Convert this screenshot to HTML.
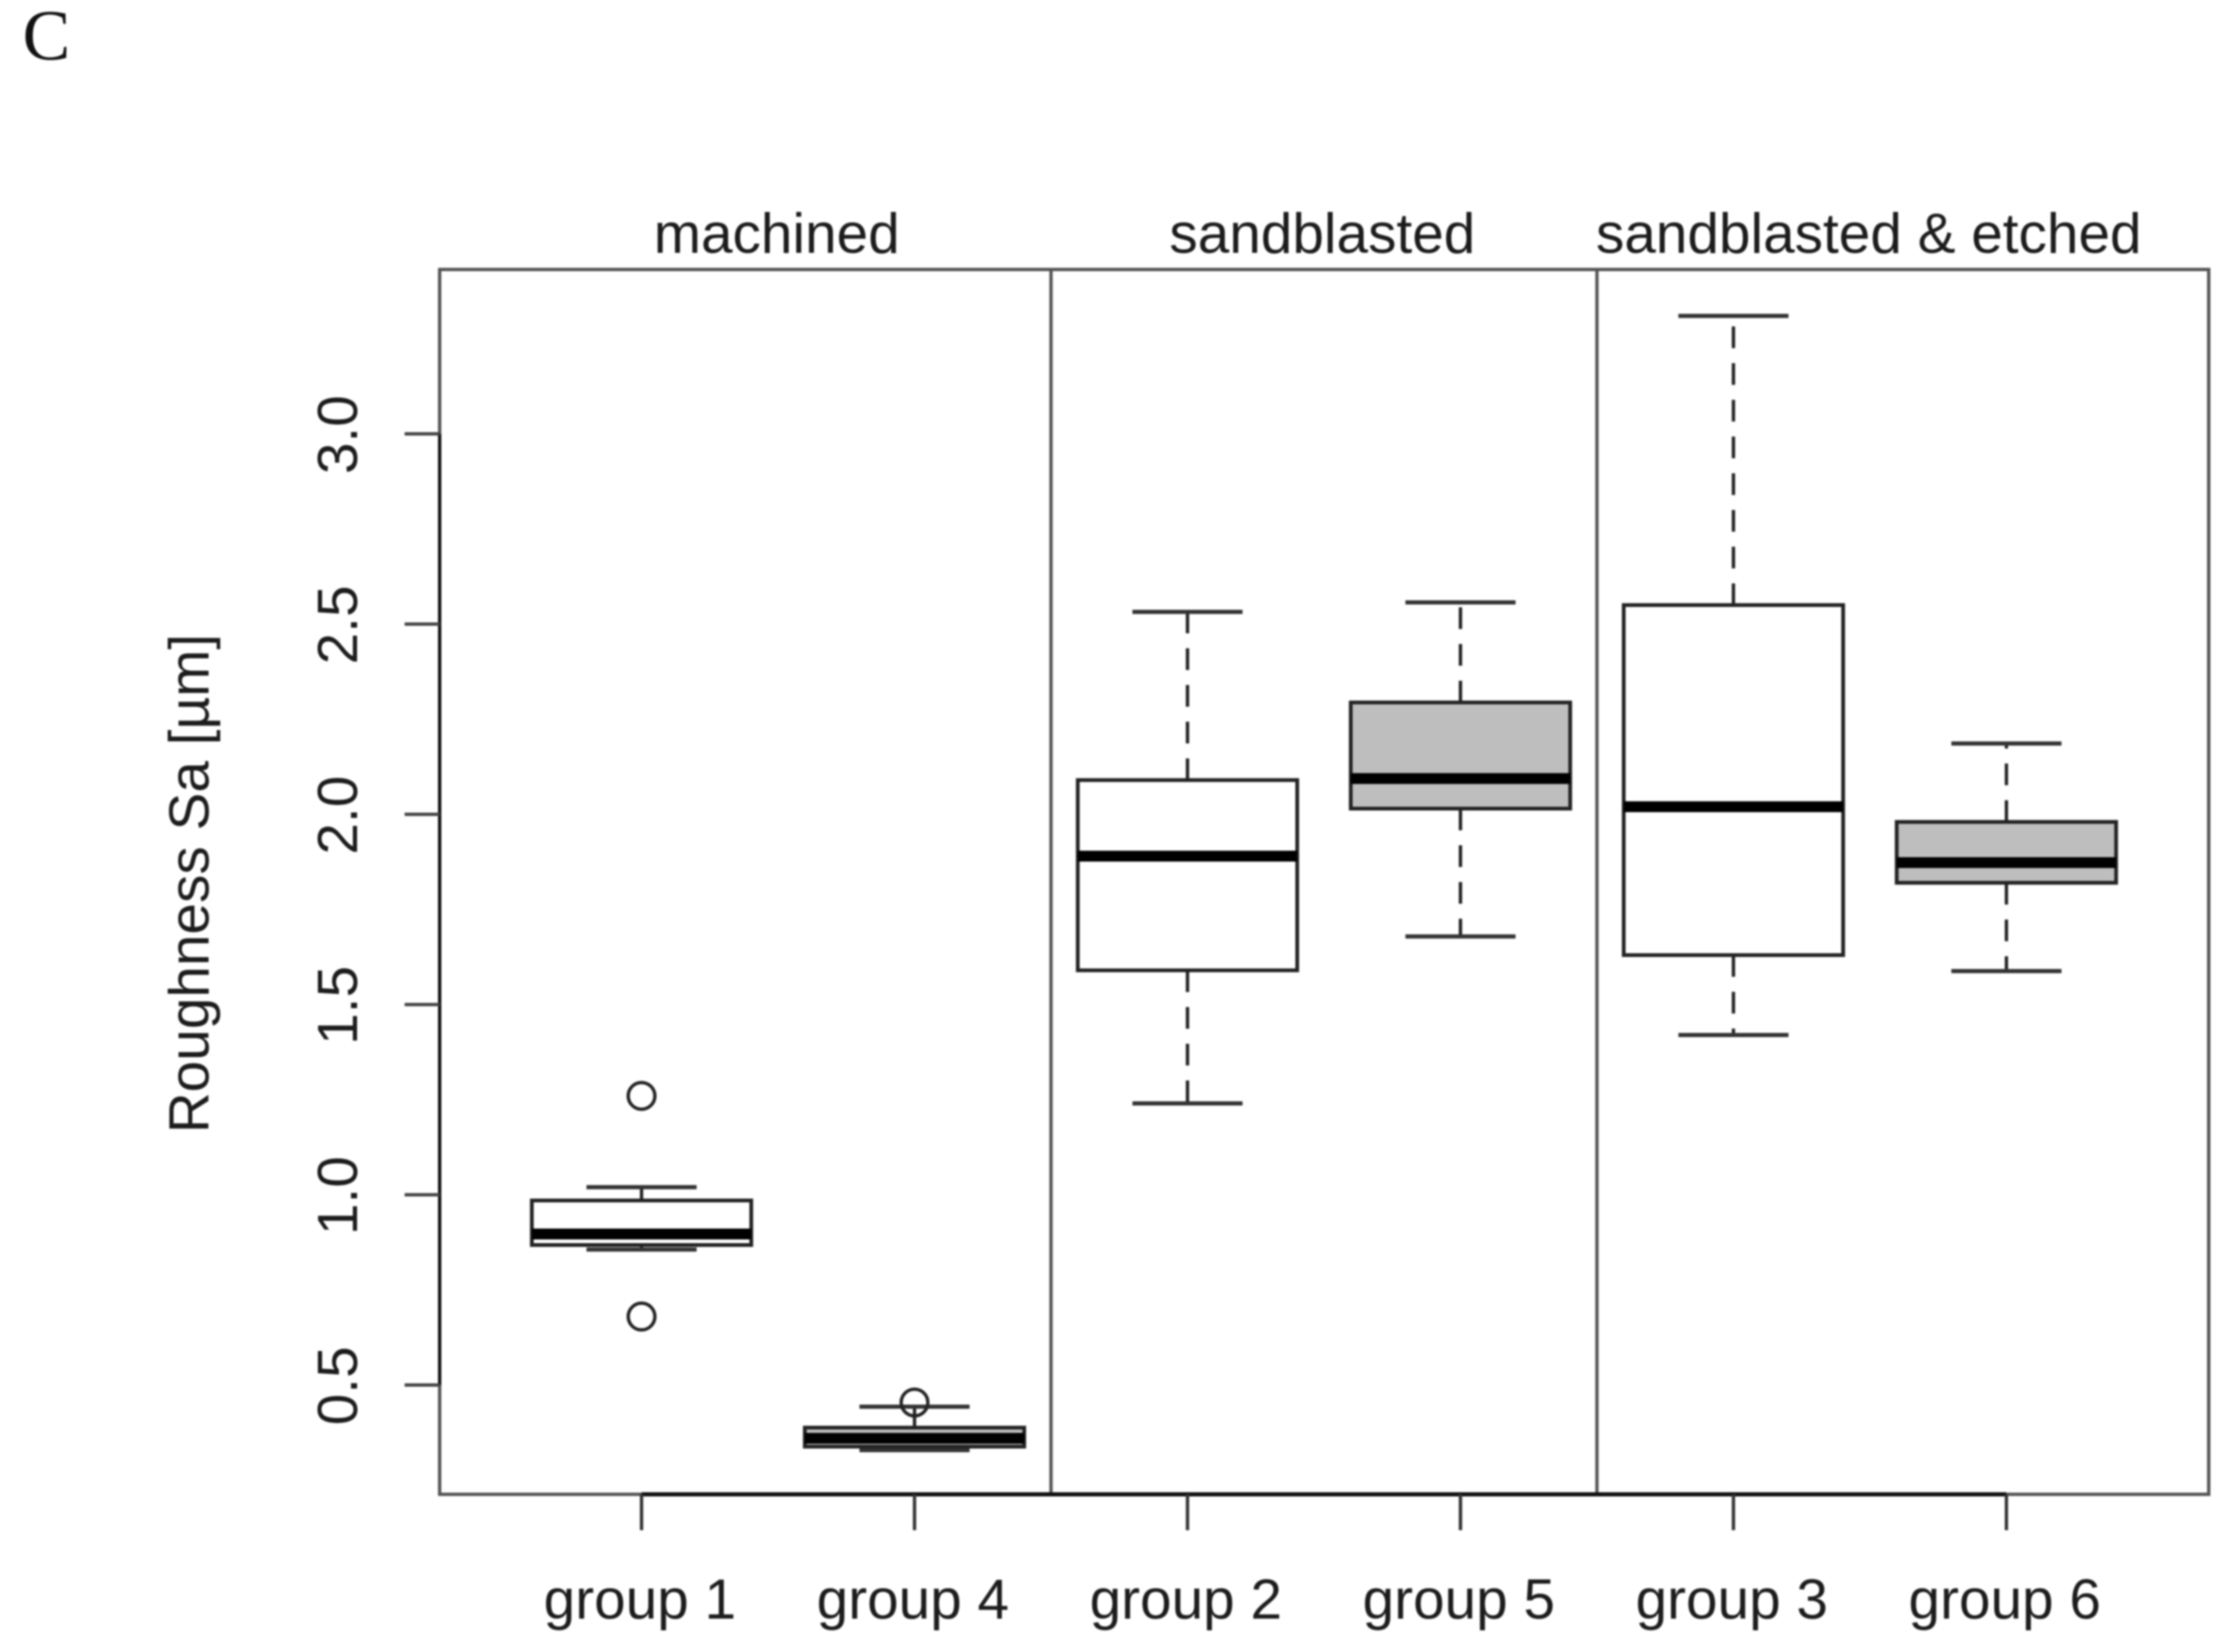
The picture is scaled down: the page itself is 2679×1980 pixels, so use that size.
<!DOCTYPE html>
<html>
<head>
<meta charset="utf-8">
<title>Roughness Sa boxplot</title>
<style>
html,body{margin:0;padding:0;background:#fff;}
body{width:2679px;height:1980px;overflow:hidden;}
svg{display:block;filter:blur(1.1px);}
text{font-family:"Liberation Sans",sans-serif;font-size:68px;fill:#1c1c1c;}
</style>
</head>
<body>
<svg id="chart" xmlns="http://www.w3.org/2000/svg" width="2679" height="1980" viewBox="0 0 2679 1980">
<rect x="0" y="0" width="2679" height="1980" fill="#fff"/>
<text x="27" y="71" style="font-family:'Liberation Serif',serif;font-size:86px;fill:#111">C</text>
<text transform="translate(250,1059) rotate(-90)" text-anchor="middle">Roughness Sa [µm]</text>
<text x="931" y="303" text-anchor="middle">machined</text>
<text x="1585" y="303" text-anchor="middle">sandblasted</text>
<text x="2240" y="303" text-anchor="middle">sandblasted &amp; etched</text>
</svg>
<script>
const categories = ["group 1", "group 4", "group 2", "group 5", "group 3", "group 6"];
const whiskerHigh = [1.02, 0.443, 2.532, 2.557, 3.31, 2.186];
const boxHigh = [0.985, 0.388, 2.09, 2.294, 2.55, 1.98];
const medians = [0.897, 0.36, 1.89, 2.094, 2.02, 1.873];
const boxLow = [0.868, 0.338, 1.59, 2.015, 1.63, 1.82];
const whiskerLow = [0.856, 0.329, 1.24, 1.679, 1.42, 1.588];
const filled = [false, true, false, true, false, true];
const outlierGroups = [0, 0, 1];
const outlierValues = [1.26, 0.68, 0.454];
const yTicks = [0.5, 1.0, 1.5, 2.0, 2.5, 3.0];
const yTickLabels = ["0.5", "1.0", "1.5", "2.0", "2.5", "3.0"];
const separators = [2.5, 4.5];

const svg = document.getElementById('chart');
const NS = 'http://www.w3.org/2000/svg';
const X0 = 769, XSTEP = 327.2, Y0 = 1660, YSCALE = 456;
function xPos(i) { return X0 + XSTEP * i; }
function yPos(v) { return Y0 - (v - 0.5) * YSCALE; }
const LEFT = 527, RIGHT = 2647.5, TOP = 323, BOTTOM = 1791;
const BOX_HALF = 131.5, CAP_HALF = 66;

function make(tag, attrs) {
  const el = document.createElementNS(NS, tag);
  for (const k in attrs) el.setAttribute(k, attrs[k]);
  svg.appendChild(el);
  return el;
}
function line(x1, y1, x2, y2, color, width, dash) {
  const attrs = { x1: x1, y1: y1, x2: x2, y2: y2, stroke: color, 'stroke-width': width };
  if (dash) attrs['stroke-dasharray'] = dash;
  return make('line', attrs);
}

// plot frame
const frame = make('rect', { x: LEFT, y: TOP, width: RIGHT - LEFT, height: BOTTOM - TOP, fill: 'none', stroke: '#555', 'stroke-width': 4 });



// panel separators
separators.forEach(function (s) {
  const sx = xPos(s - 1);
  const sep = line(sx, TOP, sx, BOTTOM, '#555', 4);
  
  
});

// y axis
const yAxis = line(LEFT, yPos(yTicks[yTicks.length - 1]), LEFT, yPos(yTicks[0]), '#111', 4);


yTicks.forEach(function (t, i) {
  const tick = line(485, yPos(t), LEFT, yPos(t), '#444', 4);
  
  
  const label = make('text', { transform: 'translate(428,' + (yPos(t) + 1) + ') rotate(-90)', 'text-anchor': 'middle' });
  label.textContent = yTickLabels[i];
  
  
});

// x axis
const xAxis = line(xPos(0), BOTTOM, xPos(categories.length - 1), BOTTOM, '#111', 5);



// boxes
categories.forEach(function (name, i) {
  const cx = xPos(i);
  const yWH = yPos(whiskerHigh[i]), yBH = yPos(boxHigh[i]), yM = yPos(medians[i]), yBL = yPos(boxLow[i]), yWL = yPos(whiskerLow[i]);

  const upper = line(cx, yBH, cx, yWH, '#222', 4, '26 18');
  
  
  const lower = line(cx, yBL, cx, yWL, '#222', 4, '26 18');
  
  
  const capHigh = line(cx - CAP_HALF, yWH, cx + CAP_HALF, yWH, '#333', 5);
  
  
  const capLow = line(cx - CAP_HALF, yWL, cx + CAP_HALF, yWL, '#333', 5);
  
  

  const box = make('rect', { x: cx - BOX_HALF, y: yBH, width: BOX_HALF * 2, height: yBL - yBH, fill: filled[i] ? '#bebebe' : '#fff', stroke: '#222', 'stroke-width': 4.5 });
  
  

  const median = line(cx - BOX_HALF, yM, cx + BOX_HALF, yM, '#000', 13);
  
  

  const tick = line(cx, BOTTOM, cx, 1834, '#333', 4);
  
  

  const label = make('text', { x: cx - 2, y: 1940, 'text-anchor': 'middle' });
  label.textContent = name;
  
  
});

// outliers
outlierValues.forEach(function (v, i) {
  const dot = make('circle', { cx: xPos(outlierGroups[i]), cy: yPos(v), r: 16, fill: 'none', stroke: '#222', 'stroke-width': 4 });
  
  
});
</script>
</body>
</html>
